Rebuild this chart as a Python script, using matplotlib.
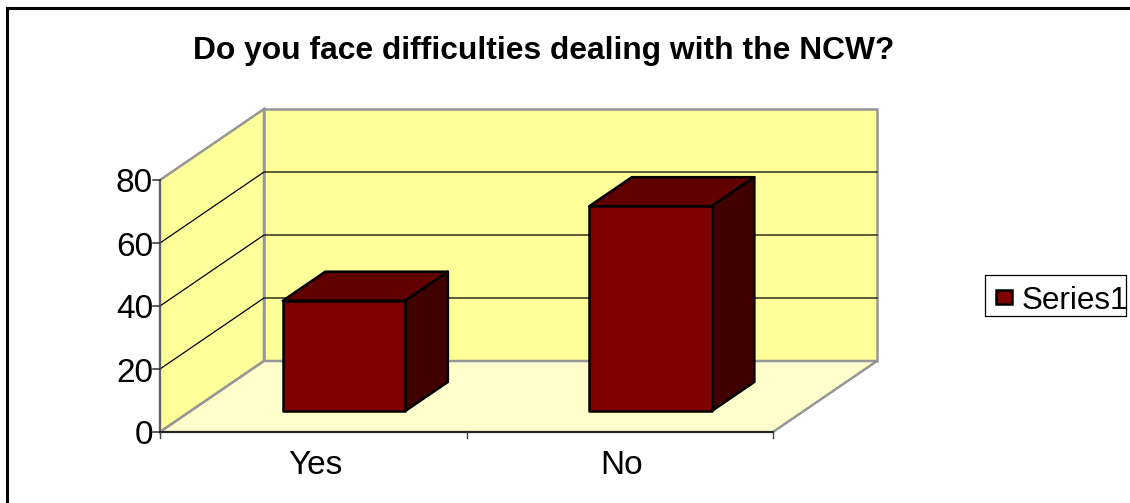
import matplotlib
matplotlib.use('Agg')
import matplotlib.pyplot as plt
from matplotlib.patches import Polygon, Rectangle

categories = ['Yes', 'No']
values = [35, 65]
y_ticks = [0, 20, 40, 60, 80]
series_name = 'Series1'
title = 'Do you face difficulties dealing with the NCW?'

plt.rcParams['font.family'] = ['Liberation Sans', 'DejaVu Sans']

# fake 3d projection, excel style, everything in image pixels
X0, Y0 = 160, 432
CAT_W = 306.5
PX_PER_UNIT = 3.15
DX, DY = 104, -71
Y_MAX = 80


def proj(cat, val, depth):
    return (X0 + cat * CAT_W + depth * DX, Y0 - val * PX_PER_UNIT + depth * DY)


fig = plt.figure(figsize=(11.3, 5.03), dpi=100)
ax = fig.add_axes([0, 0, 1, 1])
ax.set_xlim(0, 1130)
ax.set_ylim(503, 0)
ax.axis('off')

n = len(categories)
wall = '#ffff99'
floor = '#ffffcc'
grey = '#969696'

# outer frame, only top and left show
ax.plot([7, 7, 1130], [503, 8, 8], color='black', lw=2.2, solid_joinstyle='miter', zorder=1)

# walls and floor
ax.add_patch(Polygon([proj(0, 0, 0), proj(0, Y_MAX, 0), proj(0, Y_MAX, 1), proj(0, 0, 1)],
                     fc=wall, ec=grey, lw=1.8, zorder=2))
ax.add_patch(Polygon([proj(0, 0, 1), proj(0, Y_MAX, 1), proj(n, Y_MAX, 1), proj(n, 0, 1)],
                     fc=wall, ec=grey, lw=1.8, zorder=2))
ax.add_patch(Polygon([proj(0, 0, 0), proj(0, 0, 1), proj(n, 0, 1), proj(n, 0, 0)],
                     fc=floor, ec=grey, lw=1.8, zorder=2))

# gridlines on both walls, the top one is just the wall edge
for t in y_ticks[1:-1]:
    xs, ys = zip(proj(0, t, 0), proj(0, t, 1), proj(n, t, 1))
    ax.plot(xs, ys, color='black', lw=0.9, zorder=3)

# value axis
xa, ya0 = proj(0, 0, 0)
xa, ya1 = proj(0, Y_MAX, 0)
ax.plot([xa, xa], [ya0, ya1], color='#606060', lw=1.4, zorder=4)
for t in y_ticks:
    x, y = proj(0, t, 0)
    ax.plot([x - 7, x], [y, y], color='#303030', lw=1.1, zorder=4)
    ax.text(x - 7, y + 4, str(t), ha='right', va='center', fontsize=24, color='black', zorder=5)

# category axis
xs, ys = zip(proj(0, 0, 0), proj(n, 0, 0))
ax.plot(xs, ys, color='black', lw=1.1, zorder=4)
for i in range(n + 1):
    x, y = proj(i, 0, 0)
    ax.plot([x, x], [y, y + 6], color='#404040', lw=1.0, zorder=4)
for i, c in enumerate(categories):
    x, y = proj(i + 0.5, 0, 0)
    ax.text(x + 2, y + 33, c, ha='center', va='center', fontsize=24, color='black', zorder=5)

# bars
front = '#800000'
top = '#600000'
side = '#400000'
bar_w = 0.4
d0, d1 = 0.296, 0.705
for i, v in enumerate(values):
    c0 = i + 0.5 - bar_w / 2
    c1 = i + 0.5 + bar_w / 2
    ax.add_patch(Polygon([proj(c0, v, d0), proj(c0, v, d1), proj(c1, v, d1), proj(c1, v, d0)],
                         fc=top, ec='black', lw=1.8, joinstyle='round', zorder=6))
    ax.add_patch(Polygon([proj(c1, 0, d0), proj(c1, v, d0), proj(c1, v, d1), proj(c1, 0, d1)],
                         fc=side, ec='black', lw=1.8, joinstyle='round', zorder=6))
    ax.add_patch(Polygon([proj(c0, 0, d0), proj(c0, v, d0), proj(c1, v, d0), proj(c1, 0, d0)],
                         fc=front, ec='black', lw=1.8, joinstyle='round', zorder=7))

ax.text(543.5, 51, title, ha='center', va='center', fontsize=22.9, fontweight='bold', color='black', zorder=5)

# legend box
ax.add_patch(Rectangle((985, 275), 141, 41, fc='white', ec='black', lw=0.9, zorder=5))
ax.add_patch(Rectangle((996, 290), 16, 14, fc=front, ec='black', lw=1.8, zorder=6))
ax.text(1022, 301, series_name, ha='left', va='center', fontsize=22.6, color='black', zorder=6)

fig.savefig('out.png', dpi=100)
